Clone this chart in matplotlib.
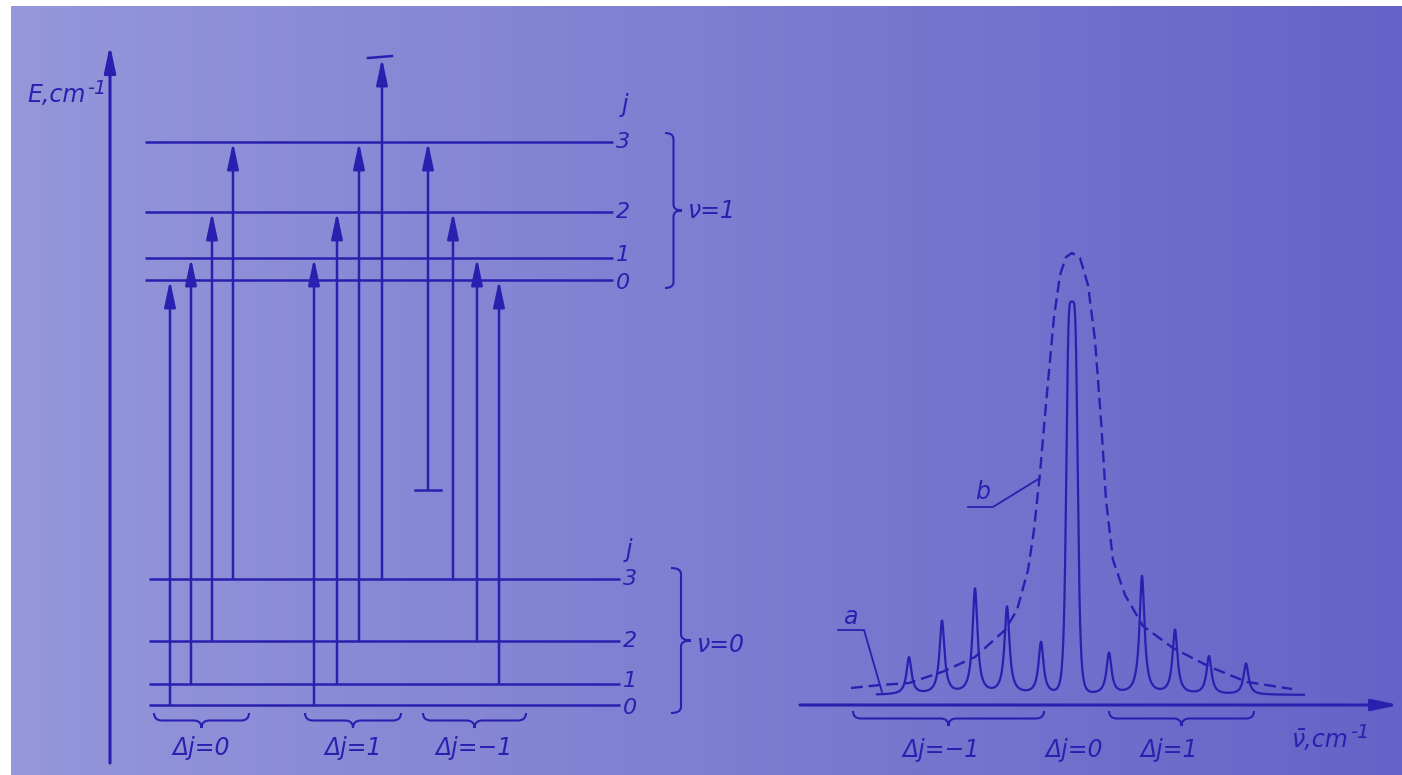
import numpy as np
import matplotlib
matplotlib.use('Agg')
import matplotlib.pyplot as plt
from matplotlib.path import Path
from matplotlib.patches import PathPatch

# --- level diagram data (E in arbitrary cm-1, j = 0..4) ---
e_v0 = [0, 21, 64, 126, 215]       # v = 0 rotational levels
e_v1 = [425, 447, 493, 563, 647]   # v = 1 rotational levels
j_shown = [0, 1, 2, 3]

# transitions (j lower, j upper) for each branch
branch_names = ['Δj=0', 'Δj=1', 'Δj=−1']
branch_trans = [[(0, 0), (1, 1), (2, 2), (3, 3)],
                [(0, 1), (1, 2), (2, 3), (3, 4)],
                [(4, 3), (3, 2), (2, 1), (1, 0)]]

# --- spectrum data (nu relative to band centre, intensity in arb. units) ---
nu_lines = [-163, -130, -97, -65, -31, 0, 37, 70, 103, 137, 174]
i_lines = [47, 83, 115, 97, 62, 402, 51, 128, 74, 48, 41]
i_base = 10
nu_span = [-195, 232]

# envelope b (unresolved band)
nu_env = [-221, -192, -163, -130, -97, -67, -55, -44, -38, -32, -26, -18, -12, -6, 0,
          8, 16, 23, 29, 34, 41, 53, 71, 101, 138, 175, 220]
i_env = [17, 20, 22, 33, 48, 75, 95, 135, 175, 232, 301, 388, 430, 448, 452,
         447, 420, 365, 285, 205, 145, 110, 79, 57, 38, 23, 16]

spec_groups = ['Δj=−1', 'Δj=0', 'Δj=1']
spec_brace = [(-219, -28), None, (37, 182)]

# --- layout (pixel-like units) ---
W, H = 1402, 775
INK = '#2a20b0'
FONT = ['DejaVu Sans']
txt = dict(color=INK, fontstyle='italic', family=FONT, fontsize=17)

trans_x = [[170, 191, 212, 233], [314, 337, 359, 382], [428, 453, 477, 499]]
brace_x = [(154, 249), (305, 401), (423, 526)]
label_shift = {0: -3, 1: 3, 2: 0, 3: 0}   # keeps the close j=0 / j=1 labels apart


def brace(ax, a, b, base, depth, vertical=False, r=8, **kw):
    m = (a + b) / 2
    h = depth / 2
    s = np.sign(b - a)
    pts = [(a, base), (a, base + h), (a + s * r, base + h), (m - s * r, base + h),
           (m, base + h), (m, base + depth), (m, base + h), (m + s * r, base + h),
           (b - s * r, base + h), (b, base + h), (b, base)]
    codes = [Path.MOVETO, Path.CURVE3, Path.CURVE3, Path.LINETO, Path.CURVE3, Path.CURVE3,
             Path.CURVE3, Path.CURVE3, Path.LINETO, Path.CURVE3, Path.CURVE3]
    if vertical:
        pts = [(q, p) for p, q in pts]
    ax.add_patch(PathPatch(Path(pts, codes), fill=False, **kw))


fig = plt.figure(figsize=(W / 100, H / 100), dpi=100, facecolor='white')

# scanned-paper background: light violet on the left, darker on the right
bg = fig.add_axes([11 / W, 0, 1 - 11 / W, 769 / H])
left_c = np.array([149, 151, 218]) / 255
mid_c = np.array([126, 126, 210]) / 255
right_c = np.array([101, 99, 199]) / 255
t = np.linspace(0, 1, 400)[:, None]
grad = np.where(t < 0.5, left_c + (mid_c - left_c) * t * 2, mid_c + (right_c - mid_c) * (t - 0.5) * 2)
bg.imshow(grad[None, :, :], aspect='auto', extent=[0, 1, 0, 1])
bg.axis('off')

lw = 1.8
arrow_kw = dict(arrowstyle='-|>,head_length=0.8,head_width=0.17', mutation_scale=20,
                lw=lw, color=INK, shrinkA=0, shrinkB=0)

# ---------- left: energy levels ----------
axl = fig.add_axes([0, 0, 790 / W, 1])
axl.set_xlim(0, 790)
axl.set_ylim(-70, 705)
axl.axis('off')
axl.patch.set_alpha(0)

axl.annotate('', xy=(110, 660), xytext=(110, -58), arrowprops=dict(arrow_kw, lw=2.2))
axl.text(27, 610, 'E,cm', ha='left', va='center', **txt)
axl.text(87, 617, '-1', ha='left', va='center', **dict(txt, fontsize=14))

axl.hlines([e_v1[j] for j in j_shown], 145, 613, color=INK, lw=lw)
axl.hlines([e_v0[j] for j in j_shown], 149, 620, color=INK, lw=lw)
for j in j_shown:
    axl.text(616, e_v1[j] + label_shift[j], str(j), ha='left', va='center', **dict(txt, fontsize=16))
    axl.text(623, e_v0[j] + label_shift[j], str(j), ha='left', va='center', **dict(txt, fontsize=16))
axl.text(622, 600, 'j', ha='left', va='center', **txt)
axl.text(626, 155, 'j', ha='left', va='center', **txt)

brace(axl, e_v1[3] + 9, e_v1[0] - 8, 665, 17, vertical=True, r=6, color=INK, lw=1.5)
axl.text(688, (e_v1[3] + e_v1[0]) / 2, 'ν=1', ha='left', va='center', **txt)
brace(axl, e_v0[3] + 11, e_v0[0] - 8, 671, 20, vertical=True, r=6, color=INK, lw=1.5)
axl.text(697, (e_v0[3] + e_v0[0]) / 2 - 3, 'ν=0', ha='left', va='center', **txt)

for g, trans in enumerate(branch_trans):
    for k, (jl, ju) in enumerate(trans):
        x = trans_x[g][k]
        y0, y1 = e_v0[jl], e_v1[ju]
        axl.annotate('', xy=(x, y1), xytext=(x, y0), arrowprops=arrow_kw)
        if jl == 4:
            axl.plot([x - 13, x + 13], [y0, y0], color=INK, lw=lw)
        if ju == 4:
            axl.plot([x - 14, x + 10], [y1, y1 + 2], color=INK, lw=lw)
    a, b = brace_x[g]
    brace(axl, a, b, -8, -15, r=8, color=INK, lw=1.5)
    axl.text((a + b) / 2, -43, branch_names[g], ha='center', va='center', **txt)

# ---------- right: spectrum ----------
axr = fig.add_axes([790 / W, 0, 612 / W, 1])
axr.set_xlim(-282, 330)
axr.set_ylim(-70, 705)
axr.axis('off')
axr.patch.set_alpha(0)

axr.annotate('', xy=(327, 0), xytext=(-272, 0), arrowprops=dict(arrow_kw, lw=2.2))

# curve a: resolved rotational lines on a weak background
nu = np.linspace(nu_span[0], nu_span[1], 4000)
prof = np.full_like(nu, float(i_base))
for n0, h in zip(nu_lines, i_lines):
    if n0 == 0:
        prof += (h - i_base) / (1 + (np.abs(nu - n0) / 6.0) ** 5)
    else:
        prof += (h - i_base) / (1 + ((nu - n0) / 3.0) ** 2)
axr.plot(nu, prof, color=INK, lw=1.6)

# curve b: envelope
axr.plot(nu_env, i_env, color=INK, lw=1.7, ls=(0, (5, 2.5)))

axr.text(-89, 213, 'b', ha='center', va='center', **txt)
axr.plot([-104, -79, -32], [198, 198, 227], color=INK, lw=1.3)
axr.text(-222, 88, 'a', ha='center', va='center', **txt)
axr.plot([-234, -208, -190], [75, 75, 13], color=INK, lw=1.3)

centres = [-131, 2, 97]
for g, name in enumerate(spec_groups):
    if spec_brace[g] is not None:
        a, b = spec_brace[g]
        brace(axr, a, b, -6, -15, r=8, color=INK, lw=1.5)
    axr.text(centres[g], -45, name, ha='center', va='center', **txt)
axr.text(220, -35, 'ν\u0304,cm', ha='left', va='center', **txt)
axr.text(278, -28, '-1', ha='left', va='center', **dict(txt, fontsize=14))

fig.savefig('out.png', dpi=100, facecolor='white')
